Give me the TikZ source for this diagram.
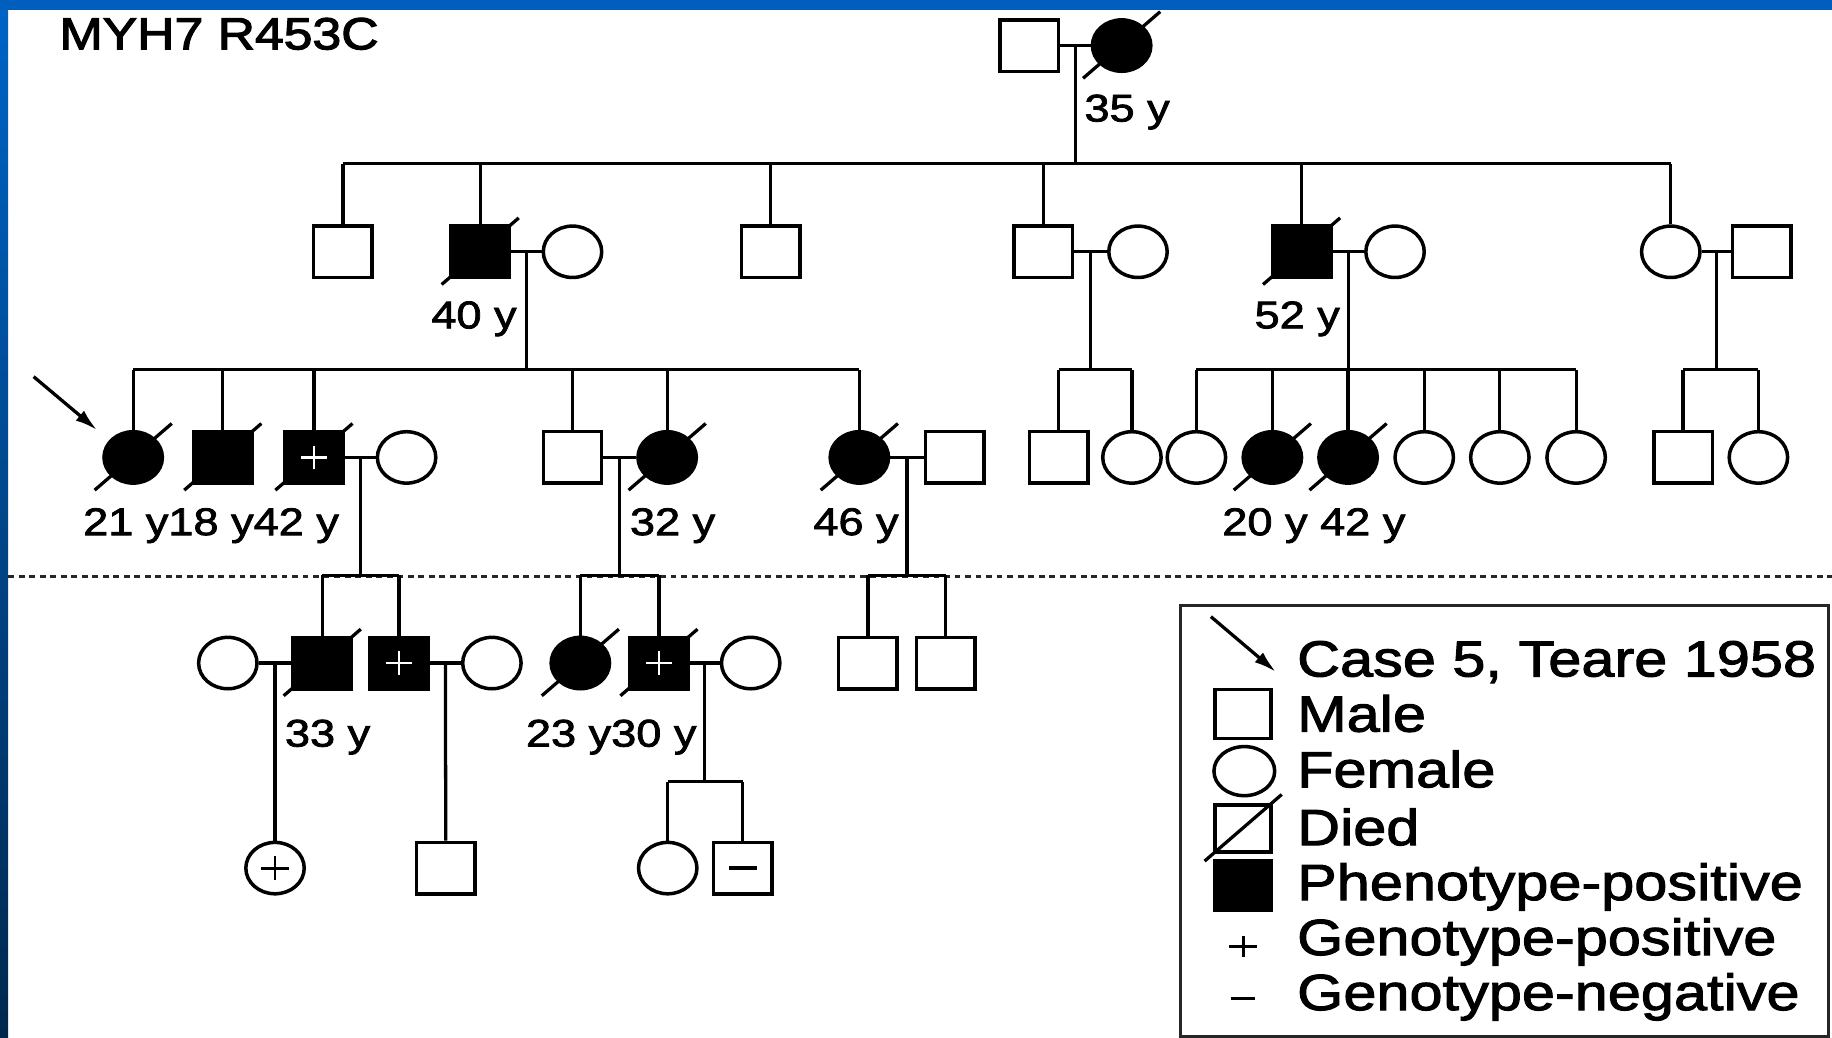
\documentclass[tikz,border=0pt]{standalone}
\usepackage{fontspec}
\setmainfont{Liberation Sans}[FakeStretch=1.17, FakeBold=2]
\newfontfamily\titlefont{Liberation Sans}[FakeStretch=1.15, FakeBold=2.6]
\usetikzlibrary{shapes.geometric,arrows.meta,calc}
\definecolor{blueTop}{HTML}{0064C6}
\definecolor{blueBot}{HTML}{00284E}
\definecolor{blueBar}{HTML}{005EBE}
\newcommand{\diedmark}[1]{\draw[slash] ([shift={(-33,28)}]#1.center) -- ([shift={(33,-29)}]#1.center);}
\newcommand{\gplus}[2]{\draw[#2, line width=2.4pt] ([xshift=-11pt]#1.center) -- ([xshift=11pt]#1.center) ([yshift=-10pt]#1.center) -- ([yshift=10pt]#1.center);}
\begin{document}
\begin{tikzpicture}[x=1pt,y=-1pt,
  sym/.style={draw=black, line width=3pt, inner sep=0pt, minimum width=50pt, minimum height=44pt, fill=white},
  male/.style={sym, rectangle},
  female/.style={sym, ellipse},
  aff/.style={fill=black},
  ln/.style={line width=2.8pt, black},
  slash/.style={line width=2.8pt, black},
  lab/.style={anchor=base west, inner sep=0pt, font=\fontsize{33}{33}\selectfont, text=black},
  leg/.style={anchor=base west, inner sep=0pt, font=\fontsize{43.5}{43.5}\selectfont, text=black},
]
\useasboundingbox (0,0) rectangle (1568,888);
\fill[white] (0,0) rectangle (1568,888);
% frame
\shade[top color=blueTop, bottom color=blueBot] (0,0) rectangle (7,888);
\fill[blueBar] (0,0) rectangle (1568,8.5);

% title
\node[anchor=base west, inner sep=0pt, font=\titlefont\fontsize{38.5}{38.5}\selectfont] (title) at (50.8,42.2) {MYH7 R453C};

% Generation I
\node[male] (I1) at (881,39) {};
\node[female,aff] (I2) at (960,39) {};
% Generation II
\node[male] (II1) at (293.5,215.5) {};
\node[male,aff] (II2) at (411,215.5) {};
\node[female] (II3) at (490,215.5) {};
\node[male] (II4) at (659.5,215.5) {};
\node[male] (II5) at (893,215.5) {};
\node[female] (II6) at (974,215.5) {};
\node[male,aff] (II7) at (1114,215.5) {};
\node[female] (II8) at (1194,215.5) {};
\node[female] (II9) at (1430,215.5) {};
\node[male] (II10) at (1508,215.5) {};
% Generation III
\node[female,aff] (III1) at (114,391.5) {};
\node[male,aff] (III2) at (190.7,391.5) {};
\node[male,aff] (III3) at (268.7,391.5) {};
\node[female] (III4) at (348,391.5) {};
\node[male] (III5) at (490,391.5) {};
\node[female,aff] (III6) at (571,391.5) {};
\node[female,aff] (III7) at (735.5,391.5) {};
\node[male] (III8) at (817,391.5) {};
\node[male] (III9) at (906,391.5) {};
\node[female] (III10) at (968.8,391.5) {};
\node[female] (III11) at (1024,391.5) {};
\node[female,aff] (III12) at (1089,391.5) {};
\node[female,aff] (III13) at (1153.8,391.5) {};
\node[female] (III14) at (1219,391.5) {};
\node[female] (III15) at (1283.7,391.5) {};
\node[female] (III16) at (1349,391.5) {};
\node[male] (III17) at (1440.5,391.5) {};
\node[female] (III18) at (1505,391.5) {};
% Generation IV
\node[female] (IV1) at (195,567.5) {};
\node[male,aff] (IV2) at (275.8,567.5) {};
\node[male,aff] (IV3) at (341.5,567.5) {};
\node[female] (IV4) at (421,567.5) {};
\node[female,aff] (IV5) at (496.7,567.5) {};
\node[male,aff] (IV6) at (564,567.5) {};
\node[female] (IV7) at (642.5,567.5) {};
\node[male] (IV8) at (742.8,567.5) {};
\node[male] (IV9) at (809.3,567.5) {};
% Generation V
\node[female] (V1) at (235.4,743) {};
\node[male] (V2) at (381.5,743) {};
\node[female] (V3) at (571.5,743) {};
\node[male] (V4) at (635.8,743) {};

% sibship levels
\coordinate (s2) at (0,140);
\coordinate (s3) at (0,316.5);
\coordinate (s4) at (0,492.5);
\coordinate (s5) at (0,669);

% dotted generation divider
\coordinate (dl) at (7,493.5);
\coordinate (dr) at (1568,493.5);
\draw[line width=2.4pt, black!85, dash pattern=on 5pt off 4pt] (dl) -- (dr);

% marriages
\foreach \a/\b in {I1/I2, II2/II3, II5/II6, II7/II8, II9/II10, III3/III4, III5/III6, III7/III8, IV1/IV2, IV3/IV4, IV6/IV7}
  \draw[ln] (\a.east) -- (\b.west);
\coordinate (m1) at ($(I1.east)!0.5!(I2.west)$);
\coordinate (m2) at ($(II2.east)!0.5!(II3.west)$);
\coordinate (m3) at ($(II5.east)!0.5!(II6.west)$);
\coordinate (m4) at ($(II7.east)!0.5!(II8.west)$);
\coordinate (m5) at ($(II9.east)!0.5!(II10.west)$);
\coordinate (m6) at ($(III3.east)!0.5!(III4.west)$);
\coordinate (m7) at ($(III5.east)!0.5!(III6.west)$);
\coordinate (m8) at ($(III7.east)!0.5!(III8.west)$);
\coordinate (m9) at ($(IV1.east)!0.5!(IV2.west)$);
\coordinate (m10) at ($(IV3.east)!0.5!(IV4.west)$);
\coordinate (m11) at ($(IV6.east)!0.5!(IV7.west)$);

% descent lines
\draw[ln] (m1) -- (m1 |- s2);
\draw[ln] (II1.north |- s2) -- (II9.north |- s2);
\foreach \c in {II1,II2,II4,II5,II7,II9} \draw[ln] (\c.north) -- (\c.north |- s2);

\draw[ln] (m2) -- (m2 |- s3);
\draw[ln] (III1.north |- s3) -- (III7.north |- s3);
\foreach \c in {III1,III2,III3,III5,III6,III7} \draw[ln] (\c.north) -- (\c.north |- s3);

\draw[ln] (m3) -- (m3 |- s3);
\draw[ln] (III9.north |- s3) -- (III10.north |- s3);
\foreach \c in {III9,III10} \draw[ln] (\c.north) -- (\c.north |- s3);

\draw[ln] (m4) -- (m4 |- s3);
\draw[ln] (III11.north |- s3) -- (III16.north |- s3);
\foreach \c in {III11,III12,III13,III14,III15,III16} \draw[ln] (\c.north) -- (\c.north |- s3);

\draw[ln] (m5) -- (m5 |- s3);
\draw[ln] (III17.north |- s3) -- (III18.north |- s3);
\foreach \c in {III17,III18} \draw[ln] (\c.north) -- (\c.north |- s3);

\draw[ln] (m6) -- (m6 |- s4);
\draw[ln] (IV2.north |- s4) -- (IV3.north |- s4);
\foreach \c in {IV2,IV3} \draw[ln] (\c.north) -- (\c.north |- s4);

\draw[ln] (m7) -- (m7 |- s4);
\draw[ln] (IV5.north |- s4) -- (IV6.north |- s4);
\foreach \c in {IV5,IV6} \draw[ln] (\c.north) -- (\c.north |- s4);

\draw[ln] (m8) -- (m8 |- s4);
\draw[ln] (IV8.north |- s4) -- (IV9.north |- s4);
\foreach \c in {IV8,IV9} \draw[ln] (\c.north) -- (\c.north |- s4);

\draw[ln] (m9) -- (V1.north);
\draw[ln] (m10) -- (V2.north);
\draw[ln] (m11) -- (m11 |- s5);
\draw[ln] (V3.north |- s5) -- (V4.north |- s5);
\foreach \c in {V3,V4} \draw[ln] (\c.north) -- (\c.north |- s5);

% died slashes
\foreach \n in {I2,II2,II7,III1,III2,III3,III6,III7,III12,III13,IV2,IV5,IV6} \diedmark{\n}
% genotype marks
\foreach \n in {III3,IV3,IV6} \gplus{\n}{white}
\draw[black, line width=2.4pt] ([xshift=-12pt]V1.center) -- ([xshift=12pt]V1.center) ([yshift=-10pt]V1.center) -- ([yshift=10pt]V1.center);
\draw[black, line width=3.2pt] ([xshift=-12pt]V4.center) -- ([xshift=12pt]V4.center);

% proband arrow
\coordinate (arrS) at (28.8,322.4);
\coordinate (arrT) at (83,368);
\draw[line width=2.8pt, -{Latex[length=19pt,width=11pt]}] (arrS) -- (arrT);

% ages
\node[lab] (a1) at (928,104) {35 y};
\node[lab] (a2) at (369,281) {40 y};
\node[lab] (a3) at (1073.6,281) {52 y};
\node[lab] (a4) at (71,458) {21 y18 y42 y};
\node[lab] (a5) at (539,458) {32 y};
\node[lab] (a6) at (696,458) {46 y};
\node[lab] (a7) at (1046,458) {20 y 42 y};
\node[lab] (a8) at (243.7,639) {33 y};
\node[lab] (a9) at (450,639) {23 y30 y};

% legend
\node[draw=black!85, line width=2.6pt, inner sep=0pt, minimum width=555pt, minimum height=369pt, anchor=north west] (legend) at (1009,517) {};
\coordinate (lgS) at (1036.4,527.8);
\coordinate (lgT) at (1092,575);
\draw[line width=2.8pt, -{Latex[length=19pt,width=11pt]}] (lgS) -- (lgT);
\node[leg] (t1) at (1110,579) {Case 5, Teare 1958};
\node[male, minimum width=48pt, minimum height=42pt] (L1) at (1064,611) {};
\node[leg] (t2) at (1110,626.2) {Male};
\node[female, minimum width=52pt, minimum height=42pt] (L2) at (1065,660) {};
\node[leg] (t3) at (1110,673.8) {Female};
\node[male, minimum width=48pt, minimum height=40pt] (L3) at (1064,709) {};
\diedmark{L3}
\node[leg] (t4) at (1110,723.3) {Died};
\node[male, aff, minimum width=48pt, minimum height=42pt] (L4) at (1064,758) {};
\node[leg] (t5) at (1110,770.3) {Phenotype-positive};
\coordinate (L5) at (1064,810);
\draw[black, line width=2.4pt] ([xshift=-12pt]L5) -- ([xshift=12pt]L5) ([yshift=-9pt]L5) -- ([yshift=9pt]L5);
\node[leg] (t6) at (1110,817.4) {Genotype-positive};
\coordinate (L6) at (1064,854.4);
\draw[black, line width=2.4pt] ([xshift=-10pt]L6) -- ([xshift=10pt]L6);
\node[leg] (t7) at (1110,864.5) {Genotype-negative};
\end{tikzpicture}
\end{document}
